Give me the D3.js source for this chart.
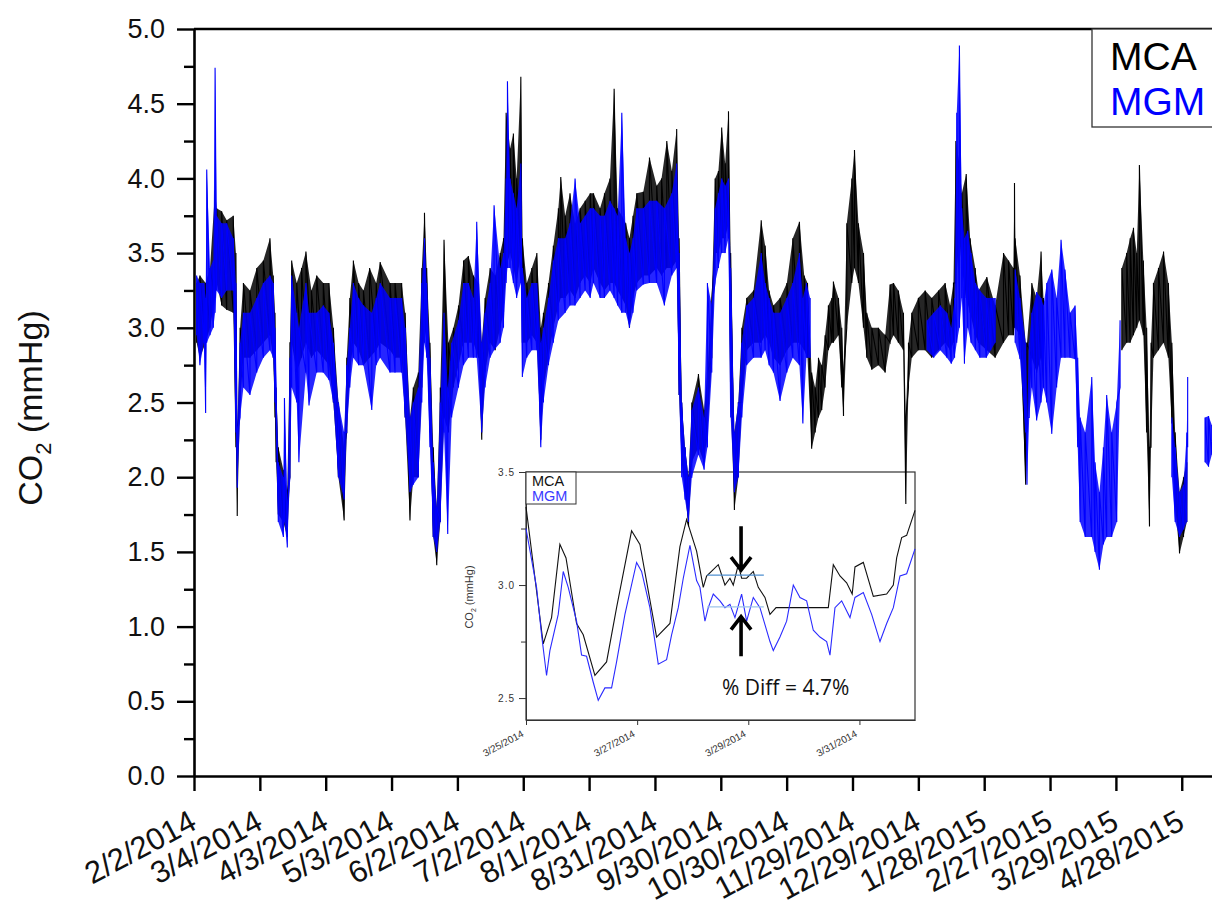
<!DOCTYPE html>
<html>
<head>
<meta charset="utf-8">
<script src="https://cdn.jsdelivr.net/npm/d3@7"></script>
<style>
    body { margin: 0; background: #fff; }
    svg { display: block; font-family: "Liberation Sans", Arial, sans-serif; }
</style>
</head>
<body>
<script>
//CO2 comparison chart, MCA vs MGM, with inset of 3/25-4/1/2014

//pseudo-global data
//main series knots: [days after 2/2/2014, low, high] ; null = gap in record
var mcaKnots = [
    [1.2,2.9,3.3],[2.7,2.8,3.35],[5.3,2.9,3.3],[7.3,3.0,3.4],[9.6,3.2,3.92],[10.3,3.3,3.8],
    [12.6,3.15,3.78],[14.9,3.12,3.72],[17.9,3.1,3.75],[19.1,2.2,3.5],[19.7,1.74,2.3],[21,2.5,3.0],
    [22.5,2.8,3.3],[25.5,2.8,3.25],[28.6,2.85,3.4],[31.6,2.9,3.45],[34.6,2.95,3.6],[36.1,2.8,3.35],
    [36.9,2.4,3.1],[37.4,2.1,2.6],[38.4,1.75,2.2],[40.7,1.7,2.05],[42.5,1.6,1.9],[43.7,2.0,2.9],
    [44.5,2.9,3.45],[46.8,2.7,3.3],[49,2.8,3.4],[51,2.9,3.51],[53.5,2.8,3.25],[55.9,2.85,3.35],
    [58.9,2.8,3.3],[61.5,2.75,3.3],[63.5,2.5,3.0],[65.8,2.0,2.5],[68.4,1.71,2.2],[69.6,2.3,2.8],
    [71,2.7,3.2],[72.6,2.9,3.45],[75,2.85,3.3],[77.2,2.75,3.25],[80,2.8,3.4],[83,2.85,3.3],
    [84.8,2.9,3.44],[89.3,2.85,3.3],[91.6,2.8,3.3],[94.6,2.8,3.3],[96.2,2.4,3.1],[98.4,1.71,2.4],
    [99.9,2.0,2.6],[102.2,2.0,2.7],[103.8,2.6,3.4],[105,3.0,3.77],[106,2.9,3.4],[107.5,2.3,2.9],
    [109,1.6,2.2],[110.6,1.41,1.8],[112.2,1.7,2.6],[113.9,2.4,3.59],[115.9,2.3,2.9],[118.2,2.6,3.0],
    [120.5,2.75,3.15],[122.8,2.9,3.45],[125,2.9,3.48],[127.3,2.9,3.35],[129.6,2.8,3.3],[131.1,2.25,2.9],
    [132.6,2.7,3.2],[134.9,2.9,3.4],[137.2,2.85,3.35],[139.5,3.0,3.5],[141,3.1,3.6],[142.2,3.4,4.44],
    [144,3.5,4.2],[145.5,3.4,4.3],[147,3.3,4.0],[148.9,3.5,4.68],[149.6,2.9,3.6],[151.6,2.9,3.3],
    [153.9,2.95,3.4],[156.2,2.9,3.5],[158,2.25,3.0],[159.2,2.6,3.1],[161.5,2.8,3.3],[163.7,3.0,3.55],
    [166,3.15,3.8],[167.1,3.2,4.01],[169.1,3.2,3.75],[171.3,3.25,3.9],[173.6,3.2,3.7],[175.9,3.3,3.8],
    [178.2,3.35,3.85],[180.5,3.3,3.9],[182,3.4,3.9],[185,3.3,3.8],[187,3.25,3.9],[189.5,3.3,4.0],
    [191.4,3.3,4.6],[193,3.25,3.8],[194.9,3.2,3.75],[196.7,3.15,3.7],[198.4,3.0,3.6],[200,3.2,3.75],
    [201.7,3.3,3.9],[204.7,3.35,3.91],[207.5,3.35,4.14],[210.8,3.4,3.95],[213,3.35,4.0],[215.4,3.4,4.25],
    [217.7,3.4,4.05],[219.9,3.45,4.33],[221,2.55,3.6],[222.2,2.1,2.5],[223.7,1.9,2.2],[225.3,1.67,2.0],
    [226.8,2.1,2.5],[229.8,2.2,2.69],[232.4,2.1,2.45],[233.9,2.3,2.7],[235.9,2.8,3.2],[237.4,3.5,4.0],
    [238.9,3.5,4.05],[240.4,3.6,4.34],[242,3.6,4.1],[243.5,3.7,4.45],[244.5,2.5,3.5],[246.2,1.78,2.3],
    [248,2.0,2.5],[249.6,2.5,3.0],[251.8,2.85,3.2],[254.9,2.9,3.25],[258.4,2.9,3.72],[260.2,2.95,3.55],
    [262,2.9,3.25],[264,2.8,3.15],[267,2.75,3.2],[270.1,2.85,3.3],[272.8,2.9,3.6],[275.8,2.9,3.71],
    [278,2.85,3.35],[279.5,2.8,3.3],[281.4,2.19,2.7],[283,2.3,2.6],[284.5,2.4,2.8],[286,2.45,2.75],
    [287.5,2.6,2.95],[289,2.85,3.15],[290.6,2.9,3.2],[291.3,2.9,3.31],[293.6,2.95,3.2],[295.1,2.6,3.0],
    [295.9,2.41,2.7],[297.4,3.0,3.7],[299.7,3.3,4.0],[300.9,3.4,4.19],[302.7,3.3,3.7],[305,3.0,3.5],
    [306.5,2.8,3.1],[308.8,2.72,3.0],[311.8,2.75,3.0],[314.9,2.7,2.95],[317.1,2.9,3.29],[318.7,2.95,3.3],
    [320.9,2.9,3.25],[323.2,2.85,3.1],[324.3,1.82,2.4],[325.5,2.6,2.9],[327,2.8,3.1],[330,2.85,3.2],
    [333.1,2.85,3.25],[336.1,2.8,3.2],[339.2,2.85,3.25],[342.2,2.9,3.3],[344.5,2.85,3.15],[346,2.9,3.3],
    [347.1,3.3,4.25],[348.7,3.6,4.1],[349.8,3.4,3.9],[351.8,3.2,4.03],[353.6,3.1,3.6],[355.9,2.95,3.4],
    [357.4,2.9,3.25],[361.2,2.85,3.34],[365,2.8,3.15],[368.8,2.9,3.5],[371.1,2.95,3.45],[373.3,2.95,3.4],
    [373.8,3.0,3.97],[374.1,3.0,3.6],[376.3,2.95,3.35],[378.9,1.95,2.9],[379.5,2.3,2.9],[381.7,2.8,3.3],
    [383.9,2.7,3.2],[385.9,2.8,3.51],[387,2.6,3.2],
    null,
    [422.7,2.85,3.4],[424.9,2.9,3.5],[426.5,2.9,3.6],[428,2.95,3.67],[429.5,3.0,3.5],[430.7,3.05,4.09],
    [432.5,2.95,3.45],[434,2.3,3.0],[435.3,1.67,2.2],[436,2.2,2.9],[437.1,2.8,3.3],[439.4,2.85,3.4],
    [441.7,2.9,3.51],[443.9,2.8,3.3],[445.5,2.36,2.9],[447,1.8,2.3],[449,1.49,1.9],[450.8,1.6,2.0],
    [452.3,1.7,2.1]
];

var mgmKnots = [
    [1.2,2.95,3.35],[2.7,2.75,3.3],[4.5,2.9,3.3],[5.3,2.43,3.2],[5.8,2.9,4.06],[7.3,2.95,3.4],
    [8.8,3.0,3.45],[9.6,3.1,4.74],[10.3,3.25,3.75],[12.6,3.2,3.7],[14.9,3.25,3.7],[17.9,3.25,3.6],
    [19.1,2.3,3.3],[19.7,1.93,2.3],[21,2.4,2.9],[22.5,2.6,3.1],[25.5,2.55,3.1],[28.6,2.7,3.2],
    [31.6,2.8,3.3],[34.6,2.85,3.35],[36.1,2.8,3.3],[36.9,2.5,3.0],[38.4,1.7,2.1],[40.7,1.6,2.0],
    [41.2,1.7,2.53],[42.5,1.53,1.8],[43.7,2.0,2.8],[44.5,2.6,3.35],[46.8,2.5,3.1],[47.8,2.1,3.0],
    [51,2.7,3.3],[52.4,2.48,3.1],[55.9,2.7,3.1],[58.9,2.7,3.15],[61.5,2.65,3.1],[63.5,2.5,2.9],
    [65.8,2.0,2.5],[68.4,1.85,2.3],[69.6,2.3,2.75],[71,2.6,3.0],[72.6,2.8,3.3],[75,2.75,3.2],
    [77.2,2.75,3.15],[81,2.45,3.1],[83,2.75,3.2],[84.8,2.8,3.3],[89.3,2.7,3.2],[91.6,2.7,3.2],
    [94.6,2.7,3.2],[96.2,2.4,3.0],[98.4,1.9,2.4],[99.9,1.95,2.5],[102.2,2.0,2.6],[103.8,2.5,3.3],
    [105,2.9,3.6],[106,2.8,3.3],[107.5,2.2,2.8],[109,1.6,2.1],[110.6,1.5,1.8],[112.2,1.7,2.5],
    [113.9,2.3,3.1],[115.6,1.62,2.6],[117.4,2.4,2.9],[120.5,2.6,3.05],[122.8,2.75,3.3],[125,2.8,3.3],
    [127.3,2.8,3.2],[128.8,2.8,3.71],[131.1,2.3,2.9],[132.6,2.6,3.1],[134.9,2.8,3.3],[136.7,2.85,3.82],
    [139.5,2.9,3.4],[141,3.0,3.5],[142.2,3.3,4.0],[142.8,3.4,4.65],[144,3.4,4.0],[145.5,3.3,3.9],
    [147,3.2,3.8],[148.9,3.3,4.1],[149.6,2.67,3.4],[151.6,2.8,3.2],[153.9,2.85,3.3],[156.2,2.85,3.3],
    [158,2.2,2.9],[159.2,2.5,3.0],[161.5,2.75,3.2],[163.7,2.9,3.45],[166,3.05,3.6],[169.1,3.1,3.6],
    [171.3,3.15,3.7],[173.6,3.15,4.0],[175.9,3.2,3.7],[178.2,3.25,3.75],[180.5,3.2,3.8],[182,3.3,3.8],
    [185,3.2,3.75],[187,3.2,3.75],[189.5,3.25,3.85],[191.4,3.2,3.8],[193,3.15,3.75],[194.9,3.1,4.44],
    [196.7,3.1,3.6],[198.4,3.0,3.5],[200,3.1,3.6],[201.7,3.25,3.8],[204.7,3.29,3.8],[207.5,3.3,3.85],
    [210.8,3.3,3.85],[214.3,3.15,3.8],[217.7,3.35,3.9],[219.9,3.4,4.1],[221,2.55,3.5],[222.2,2.0,2.5],
    [223.7,1.85,2.2],[225.3,1.7,2.0],[226.8,2.0,2.45],[229.8,2.15,2.6],[232.4,2.05,2.4],[233.9,2.2,3.3],
    [235.9,2.7,3.15],[237.4,3.3,3.8],[238.9,3.4,3.9],[240.4,3.5,4.0],[242,3.5,3.95],[243.5,3.6,4.0],
    [244.5,2.4,3.4],[246.2,1.9,2.3],[248,2.0,2.5],[249.6,2.4,2.9],[251.8,2.75,3.15],[254.9,2.8,3.2],
    [258.4,2.8,3.5],[260.2,2.85,3.3],[262,2.75,3.2],[264,2.7,3.1],[267,2.51,3.1],[270.1,2.7,3.2],
    [272.8,2.8,3.3],[275.8,2.75,3.5],[277.4,2.36,3.2],[279,2.8,3.3],[280.7,2.8,3.2],
    null,
    [334,2.85,3.05],[337,2.8,3.1],[340,2.85,3.15],[343,2.8,3.1],[345,2.76,3.0],[346.5,2.8,3.2],
    [347.5,2.9,4.44],[348.7,3.0,4.89],[349.8,3.2,3.8],[351,2.76,3.6],[352.5,3.0,3.65],[354,2.9,3.5],
    [356,2.85,3.3],[358,2.8,3.25],[361,2.8,3.2],[363,2.85,3.2],[365,2.9,3.2],
    null,
    [374.1,2.9,3.39],[376.3,2.79,3.2],[378.9,2.3,2.9],[379.5,1.95,2.4],[380.5,2.4,2.9],[381.7,2.6,3.1],
    [383.9,2.38,3.24],[385.9,2.5,3.2],[387,2.6,3.15],[388.5,2.5,3.3],[390.8,2.29,3.39],[393,2.6,3.2],
    [395,2.8,3.59],[396.8,2.8,3.39],[399.1,2.8,3.1],[401.4,2.79,3.15],[402.6,2.2,2.8],[403.7,1.7,2.4],
    [406,1.6,2.3],[409,1.6,2.67],[410.5,1.5,2.1],[412.5,1.38,1.9],[414.3,1.55,2.2],[415.8,1.6,2.55],
    [418.1,1.6,2.3],[420.4,1.7,2.5],[421.9,2.6,3.05],
    null,
    [445.5,2.0,2.4],[447,1.7,2.2],[449,1.6,1.9],[450.8,1.65,1.95],[452.3,1.7,2.3],[452.7,2.2,2.67],
    null,
    [460.6,2.1,2.4],[462.2,2.07,2.41],[463.7,2.15,2.35]
];

//inset series: [days after 3/25/2014, CO2]
var insetMca = [
    [0,3.346],[0.31,2.74],[0.46,2.856],[0.61,3.18],[0.72,3.12],[0.91,2.83],[1.03,2.78],[1.24,2.60],
    [1.45,2.66],[1.63,2.90],[1.90,3.24],[2.05,3.18],[2.35,2.77],[2.59,2.83],[2.77,3.17],[2.89,3.29],
    [3.07,3.15],[3.19,2.99],[3.25,3.04],[3.46,3.09],[3.58,3.00],[3.67,3.03],[3.73,3.00],[3.82,3.09],
    [3.88,3.03],[3.97,3.03],[4.09,3.06],[4.18,2.99],[4.30,2.945],[4.39,2.87],[4.50,2.90],[5.44,2.90],
    [5.53,3.09],[5.65,3.04],[5.77,3.01],[5.87,2.96],[5.92,3.08],[6.07,3.10],[6.25,2.95],[6.49,2.96],
    [6.61,3.00],[6.67,3.12],[6.76,3.21],[6.85,3.22],[7.0,3.33]
];
var insetMgm = [
    [0,3.25],[0.19,2.99],[0.28,2.78],[0.37,2.60],[0.43,2.71],[0.58,2.87],[0.67,3.06],[0.76,2.99],
    [0.91,2.84],[1.00,2.69],[1.09,2.685],[1.21,2.57],[1.30,2.49],[1.42,2.545],[1.54,2.545],[1.63,2.66],
    [1.78,2.87],[1.99,3.10],[2.08,3.06],[2.23,2.90],[2.38,2.65],[2.53,2.67],[2.62,2.78],[2.74,2.90],
    [2.83,3.03],[2.95,3.175],[3.07,3.02],[3.13,2.99],[3.22,2.84],[3.28,2.90],[3.37,2.96],[3.49,2.93],
    [3.58,2.90],[3.67,2.915],[3.76,2.856],[3.88,2.96],[3.97,2.84],[4.09,2.945],[4.21,2.90],[4.39,2.75],
    [4.45,2.71],[4.57,2.77],[4.69,2.84],[4.81,3.00],[4.93,2.945],[5.05,2.93],[5.17,2.80],[5.29,2.77],
    [5.41,2.75],[5.47,2.69],[5.56,2.90],[5.68,2.93],[5.83,2.856],[5.92,2.945],[6.07,2.967],[6.22,2.87],
    [6.37,2.75],[6.49,2.83],[6.61,2.90],[6.73,3.04],[6.85,3.05],[7.0,3.16]
];
//inset markers: level lines [day0, day1, CO2] and arrows [day, from, to]
var insetLevels = [[3.26,4.28,3.044],[3.26,4.28,2.903]];
var insetArrows = [[3.87,3.26,3.066],[3.87,2.685,2.86]];

var yMajor = [0,0.5,1,1.5,2,2.5,3,3.5,4,4.5,5];
var yMinor = [0.25,0.75,1.25,1.75,2.25,2.75,3.25,3.75,4.25,4.75];
var xTickDays = [0,30,60,90,120,150,180,210,240,270,300,330,360,390,420,450];
var insetYMajor = [2.5,3.0,3.5];
var insetYMinor = [2.75,3.25];
var insetXTickDays = [0,2,4,6];
var seriesNames = ["MCA","MGM"];

//frame dimensions
var width = 1212,
    height = 907,
    plotLeft = 194,
    plotTop = 29,
    plotBottom = 776;

var start = Date.UTC(2014,1,2),
    insetStart = Date.UTC(2014,2,25),
    dayMs = 864e5;
function toDate(origin, d){ return new Date(origin + d * dayMs); }
var fmt = d3.utcFormat("%-m/%-d/%Y");

var svg = d3.select("body")
    .append("svg")
    .attr("width", width)
    .attr("height", height);

svg.append("rect").attr("width", width).attr("height", height).attr("fill", "#fff");

//scales, plot runs off the right edge of the picture
var x = d3.scaleUtc()
    .domain([toDate(start, 0), toDate(start, 470)])
    .range([plotLeft, plotLeft + 470 * 65.85 / 30]);
var y = d3.scaleLinear()
    .domain([0, 5])
    .range([plotBottom, plotTop]);

//top frame line
svg.append("line")
    .attr("x1", plotLeft).attr("x2", width + 5)
    .attr("y1", plotTop).attr("y2", plotTop)
    .attr("stroke", "#000").attr("stroke-width", 2.6);

//y axis, minor ticks first
svg.append("g")
    .attr("transform", "translate(" + plotLeft + ",0)")
    .call(d3.axisLeft(y).tickValues(yMinor).tickSize(10).tickFormat(""))
    .call(function(g){ g.select(".domain").remove(); })
    .selectAll("line").attr("stroke-width", 2.4);

var yAxis = svg.append("g")
    .attr("transform", "translate(" + plotLeft + ",0)")
    .call(d3.axisLeft(y).tickValues(yMajor).tickSize(17).tickSizeOuter(0).tickPadding(12)
        .tickFormat(d3.format(".1f")));
yAxis.select(".domain").attr("stroke-width", 2.6);
yAxis.selectAll("line").attr("stroke-width", 2.4);
yAxis.selectAll("text")
    .attr("font-size", 27)
    .attr("font-family", "Liberation Sans, Arial, sans-serif")
    .attr("fill", "#111");

//x axis
var xAxis = svg.append("g")
    .attr("transform", "translate(0," + plotBottom + ")")
    .call(d3.axisBottom(x)
        .tickValues(xTickDays.map(function(d){ return toDate(start, d); }))
        .tickSize(15).tickSizeOuter(0).tickFormat(fmt));
xAxis.select(".domain").attr("stroke-width", 2.6);
xAxis.selectAll("line").attr("stroke-width", 2.4);
xAxis.selectAll("text")
    .attr("y", 0).attr("dy", 0)
    .attr("text-anchor", "end")
    .attr("transform", "translate(4,52) rotate(-28)")
    .attr("font-size", 31)
    .attr("font-family", "Liberation Sans, Arial, sans-serif")
    .attr("fill", "#111");

//y title
svg.append("text")
    .attr("transform", "translate(42,408) rotate(-90)")
    .attr("text-anchor", "middle")
    .attr("font-size", 34)
    .attr("fill", "#111")
    .call(function(t){
        t.append("tspan").text("CO");
        t.append("tspan").attr("font-size", 22).attr("dy", 9).text("2");
        t.append("tspan").attr("dy", -9).text(" (mmHg)");
    });

//inset ---------------------------------------------------------------
var ix = d3.scaleUtc()
    .domain([toDate(insetStart, 0), toDate(insetStart, 7)])
    .range([526, 915]);
var iy = d3.scaleLinear()
    .domain([2.403, 3.5])
    .range([720, 472]);

var inset = svg.append("g").attr("class", "inset");

inset.append("rect")
    .attr("x", 526).attr("y", 472)
    .attr("width", 389).attr("height", 248)
    .attr("fill", "#fff").attr("stroke", "#333").attr("stroke-width", 1.2);

inset.append("g")
    .attr("transform", "translate(526,0)")
    .call(d3.axisLeft(iy).tickValues(insetYMinor).tickSize(5).tickFormat(""))
    .call(function(g){ g.select(".domain").remove(); })
    .selectAll("line").attr("stroke", "#333");

var iyAxis = inset.append("g")
    .attr("transform", "translate(526,0)")
    .call(d3.axisLeft(iy).tickValues(insetYMajor).tickSize(7).tickSizeOuter(0).tickPadding(4)
        .tickFormat(d3.format(".1f")));
iyAxis.select(".domain").attr("stroke", "#333");
iyAxis.selectAll("line").attr("stroke", "#333");
iyAxis.selectAll("text").attr("font-size", 10).attr("fill", "#333").attr("letter-spacing", 1);

var ixAxis = inset.append("g")
    .attr("transform", "translate(0,720)")
    .call(d3.axisBottom(ix)
        .tickValues(insetXTickDays.map(function(d){ return toDate(insetStart, d); }))
        .tickSize(5).tickSizeOuter(0).tickFormat(fmt));
ixAxis.select(".domain").attr("stroke", "#333");
ixAxis.selectAll("line").attr("stroke", "#333");
ixAxis.selectAll("text")
    .attr("y", 0).attr("dy", 0)
    .attr("text-anchor", "end")
    .attr("transform", "translate(-2,16) rotate(-28)")
    .attr("font-size", 10)
    .attr("fill", "#333");

inset.append("text")
    .attr("transform", "translate(473,597) rotate(-90)")
    .attr("text-anchor", "middle")
    .attr("font-size", 11)
    .attr("fill", "#333")
    .call(function(t){
        t.append("tspan").text("CO");
        t.append("tspan").attr("font-size", 7).attr("dy", 3).text("2");
        t.append("tspan").attr("dy", -3).text(" (mmHg)");
    });

var iline = d3.line()
    .x(function(d){ return ix(toDate(insetStart, d[0])); })
    .y(function(d){ return iy(d[1]); });

inset.append("path")
    .datum(insetMca)
    .attr("d", iline)
    .attr("fill", "none").attr("stroke", "#111").attr("stroke-width", 1.1);
inset.append("path")
    .datum(insetMgm)
    .attr("d", iline)
    .attr("fill", "none").attr("stroke", "#2a2aff").attr("stroke-width", 1.1);

inset.selectAll(".level")
    .data(insetLevels)
    .enter()
    .append("line")
    .attr("class", "level")
    .attr("x1", function(d){ return ix(toDate(insetStart, d[0])); })
    .attr("x2", function(d){ return ix(toDate(insetStart, d[1])); })
    .attr("y1", function(d){ return iy(d[2]); })
    .attr("y2", function(d){ return iy(d[2]); })
    .attr("stroke", function(d, i){ return i == 0 ? "#4f8fd0" : "#9cc4ea"; })
    .attr("stroke-width", 1.2);

//arrows
inset.selectAll(".arrow")
    .data(insetArrows)
    .enter()
    .append("path")
    .attr("class", "arrow")
    .attr("d", function(d){
        var ax = ix(toDate(insetStart, d[0])),
            y0 = iy(d[1]),
            y1 = iy(d[2]),
            dir = y1 > y0 ? -1 : 1;
        return "M" + ax + "," + y0 + "L" + ax + "," + y1 +
            "M" + (ax - 10) + "," + (y1 + dir * 13) + "L" + ax + "," + y1 + "L" + (ax + 10) + "," + (y1 + dir * 13);
    })
    .attr("fill", "none").attr("stroke", "#000").attr("stroke-width", 3.6);

inset.append("text")
    .attr("x", 722).attr("y", 695)
    .attr("font-family", "Open Sans, Noto Sans, sans-serif")
    .attr("font-size", 21)
    .attr("fill", "#111")
    .text("% Diff = 4.7%");

//inset legend
inset.append("rect")
    .attr("x", 526).attr("y", 472).attr("width", 50).attr("height", 32)
    .attr("fill", "#fff").attr("stroke", "#333").attr("stroke-width", 1);
inset.selectAll(".ilegend")
    .data(seriesNames)
    .enter()
    .append("text")
    .attr("class", "ilegend")
    .attr("x", 532).attr("y", function(d, i){ return 486 + i * 15; })
    .attr("font-size", 14.5)
    .attr("fill", function(d, i){ return i == 0 ? "#111" : "#3a3aff"; })
    .text(function(d){ return d; });

//main series on top of the inset -------------------------------------
var band = d3.area()
    .defined(function(d){ return d !== null; })
    .x(function(d){ return x(toDate(start, d[0])); })
    .y0(function(d){ return y(d[1]); })
    .y1(function(d){ return y(d[2]); });

//saw-tooth trace: low then high at every knot, to give the noisy look
function sawPoints(knots){
    var pts = [];
    knots.forEach(function(k){
        if (k === null){ pts.push(null); return; }
        pts.push([k[0], k[1]]);
        pts.push([k[0], k[2]]);
    });
    return pts;
}
var saw = d3.line()
    .defined(function(d){ return d !== null; })
    .x(function(d){ return x(toDate(start, d[0])); })
    .y(function(d){ return y(d[1]); });

function drawSeries(knots, color, cls){
    var g = svg.append("g").attr("class", cls);
    g.append("path")
        .datum(knots)
        .attr("d", band)
        .attr("fill", color).attr("fill-opacity", 0.85)
        .attr("stroke", "none");
    g.append("path")
        .datum(sawPoints(knots))
        .attr("d", saw)
        .attr("fill", "none")
        .attr("stroke", color).attr("stroke-width", 1.1);
}

drawSeries(mcaKnots, "#000", "mca");
drawSeries(mgmKnots, "#0000ff", "mgm");

//legend box, runs off the edge like the original
svg.append("rect")
    .attr("x", 1092).attr("y", plotTop).attr("width", 140).attr("height", 98)
    .attr("fill", "#fff").attr("stroke", "#333").attr("stroke-width", 1.3);
svg.selectAll(".legend")
    .data(seriesNames)
    .enter()
    .append("text")
    .attr("class", "legend")
    .attr("x", 1110).attr("y", function(d, i){ return 70 + i * 45; })
    .attr("font-size", 39)
    .attr("fill", function(d, i){ return i == 0 ? "#000" : "#0000ff"; })
    .text(function(d){ return d; });

</script>
</body>
</html>
